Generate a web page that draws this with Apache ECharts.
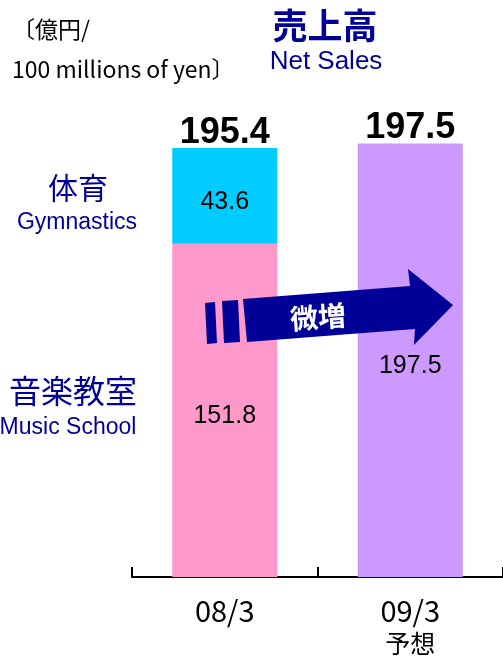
<!DOCTYPE html>
<html>
<head>
<meta charset="utf-8">
<title>売上高</title>
<script src="https://cdn.jsdelivr.net/npm/echarts@6/dist/echarts.min.js"></script>
<style>
  html, body { margin: 0; height: 100%; background: #fff; }
  #main { width: 503px; height: 656px; }
</style>
</head>
<body>
<div id="main"></div>
<script>
// 決算期
var categories = ['08/3', '09/3'];
var categorySub = ['', '予想'];
// 億円
var musicSchool = [151.8, '-'];
var gymnastics = [43.6, '-'];
var forecast = ['-', 197.5];
var totals = [195.4, 197.5];

var navy = '#000099';
var jp = '"Noto Sans CJK JP", sans-serif';
var latin = '"Liberation Sans", Arial, sans-serif';

var chart = echarts.init(document.getElementById('main'));

var insideLabel = {
  show: true,
  position: 'inside',
  offset: [0, 6],
  color: '#000',
  fontFamily: latin,
  fontSize: 25
};

var option = {
  animation: false,
  grid: { left: 132, right: -1, top: 138, bottom: 79 },
  xAxis: {
    type: 'category',
    data: categories,
    boundaryGap: true,
    axisLine: { show: true, lineStyle: { color: '#000', width: 2 } },
    axisTick: { show: true, interval: 0, inside: true, length: 10, lineStyle: { color: '#000', width: 2 } },
    axisLabel: {
      margin: 17,
      formatter: function (v, i) {
        var s = '{a|' + v + '}';
        if (categorySub[i]) s += '\n{b|' + categorySub[i] + '}';
        return s;
      },
      rich: {
        a: { fontFamily: jp, fontSize: 29, lineHeight: 34, color: '#000' },
        b: { fontFamily: jp, fontSize: 25, lineHeight: 30, color: '#000' }
      }
    }
  },
  yAxis: { type: 'value', min: 0, max: 200, show: false },
  series: [
    {
      name: '音楽教室', type: 'bar', stack: 'sales', barWidth: 105,
      data: musicSchool,
      itemStyle: { color: '#FF99CC' },
      label: insideLabel
    },
    {
      name: '体育', type: 'bar', stack: 'sales', barWidth: 105,
      data: gymnastics,
      itemStyle: { color: '#00CCFF' },
      label: insideLabel
    },
    {
      name: '予想', type: 'bar', stack: 'sales', barWidth: 105,
      data: forecast,
      itemStyle: { color: '#CC99FF' },
      label: insideLabel
    },
    {
      name: '合計', type: 'scatter', symbolSize: 0,
      data: totals,
      itemStyle: { opacity: 1 },
      label: {
        show: true, position: 'top', distance: 0, offset: [0, 3],
        color: '#000', fontFamily: latin, fontWeight: 'bold', fontSize: 36
      }
    }
  ],
  graphic: [
    // 単位
    { type: 'text', left: 12, top: 18, style: { text: '〔億円/', font: '23px ' + jp, fill: '#000' } },
    { type: 'text', left: 12, top: 58, style: { text: '100 millions of yen〕', font: '23px ' + jp, fill: '#000' } },
    // タイトル
    { type: 'text', x: 325, y: 26, style: { text: '売上高', font: 'bold 35px ' + jp, fill: navy, align: 'center', verticalAlign: 'middle' } },
    { type: 'text', x: 326, y: 62, style: { text: 'Net Sales', font: '26px ' + latin, fill: navy, align: 'center', verticalAlign: 'middle' } },
    // 凡例
    { type: 'text', x: 78, y: 188, style: { text: '体育', font: '30px ' + jp, fill: navy, align: 'center', verticalAlign: 'middle' } },
    { type: 'text', x: 77, y: 223, style: { text: 'Gymnastics', font: '23px ' + latin, fill: navy, align: 'center', verticalAlign: 'middle' } },
    { type: 'text', x: 73, y: 391, style: { text: '音楽教室', font: '32px ' + jp, fill: navy, align: 'center', verticalAlign: 'middle' } },
    { type: 'text', x: 68, y: 428, style: { text: 'Music School', font: '23px ' + latin, fill: navy, align: 'center', verticalAlign: 'middle' } },
    // 矢印
    {
      type: 'polygon', z: 100,
      shape: { points: [[243, 299], [410, 286], [408, 269], [453, 305], [414, 345], [415, 329], [247, 342]] },
      style: { fill: navy }
    },
    { type: 'polygon', z: 100, shape: { points: [[205, 303], [215, 302], [217, 343], [207, 344]] }, style: { fill: navy } },
    { type: 'polygon', z: 100, shape: { points: [[222, 301], [238, 300], [240, 342], [224, 343]] }, style: { fill: navy } },
    {
      type: 'text', z: 101, x: 318, y: 317, rotation: 0.075,
      style: { text: '微増', font: 'bold 28px ' + jp, fill: '#fff', align: 'center', verticalAlign: 'middle' }
    }
  ]
};

chart.setOption(option);
</script>
</body>
</html>
